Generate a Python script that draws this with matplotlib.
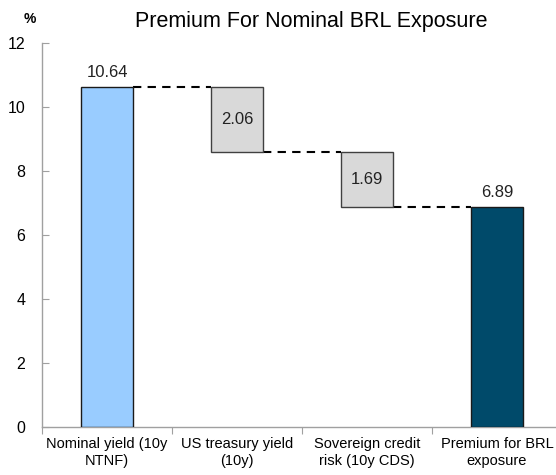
import matplotlib
matplotlib.use("Agg")
import matplotlib.pyplot as plt

plt.rcParams['font.family'] = ['Liberation Sans', 'DejaVu Sans']

categories = ["Nominal yield (10y\nNTNF)", "US treasury yield\n(10y)",
              "Sovereign credit\nrisk (10y CDS)", "Premium for BRL\nexposure"]
values = [10.64, -2.06, -1.69, 6.89]
labels = ["10.64", "2.06", "1.69", "6.89"]
yticks = [0, 2, 4, 6, 8, 10, 12]

fig = plt.figure(figsize=(5.56, 4.75), dpi=100)
ax = fig.add_axes([42/556, 48/475, 520/556, 384/475])

# compute waterfall
bottoms = []
heights = []
running = 0.0
for i, v in enumerate(values):
    if i == 0 or i == len(values) - 1:
        bottoms.append(0.0)
        heights.append(abs(v))
        running = v
    else:
        bottoms.append(running + v)
        heights.append(-v)
        running = running + v

colors = ['#99CCFF', '#D9D9D9', '#D9D9D9', '#004A6A']
edges = ['#1a1a1a', '#404040', '#404040', '#1a1a1a']
xs = [i + 0.5 for i in range(len(values))]
w = 0.4
ax.bar(xs, heights, bottom=bottoms, width=w, color=colors, edgecolor=edges, linewidth=1.0, zorder=3)

# connectors
tops = [b + h for b, h in zip(bottoms, heights)]
levels = [tops[0], bottoms[1], bottoms[2]]
for i, lv in enumerate(levels):
    ax.plot([xs[i] + w/2, xs[i+1] - w/2], [lv, lv], color='black', linestyle=(0, (4, 3)), linewidth=1.5, zorder=2)

# labels
for i, (b, h, t) in enumerate(zip(bottoms, heights, labels)):
    if i == 0 or i == len(values) - 1:
        ax.text(xs[i], b + h + 0.2, t, ha='center', va='bottom', fontsize=12, color='#222222')
    else:
        ax.text(xs[i], b + h/2, t, ha='center', va='center', fontsize=12, color='#222222')

ax.set_xlim(0, 4)
ax.set_ylim(0, 12)
ax.set_yticks(yticks)
ax.set_yticklabels([str(t) for t in yticks], fontsize=11.5)
ax.set_xticks([0, 1, 2, 3, 4])
ax.set_xticklabels([])
ax.set_xticks(xs, minor=True)
ax.set_xticklabels(categories, minor=True, fontsize=10.5, linespacing=1.3)
ax.tick_params(axis='x', which='minor', length=0, pad=7)
ax.tick_params(axis='x', which='major', direction='out', length=5, color='#A0A0A0')
ax.tick_params(axis='y', direction='in', length=5, color='#A0A0A0', pad=12)
for s in ['top', 'right']:
    ax.spines[s].set_visible(False)
for s in ['left', 'bottom']:
    ax.spines[s].set_color('#A0A0A0')
    ax.spines[s].set_linewidth(1.0)

fig.text(311/556, 1 - 22/475, "Premium For Nominal BRL Exposure", ha='center', va='center', fontsize=15.5)
fig.text(30/556, 1 - 19/475, "%", ha='center', va='center', fontsize=10, fontweight='bold')

fig.savefig("out.png", dpi=100)
